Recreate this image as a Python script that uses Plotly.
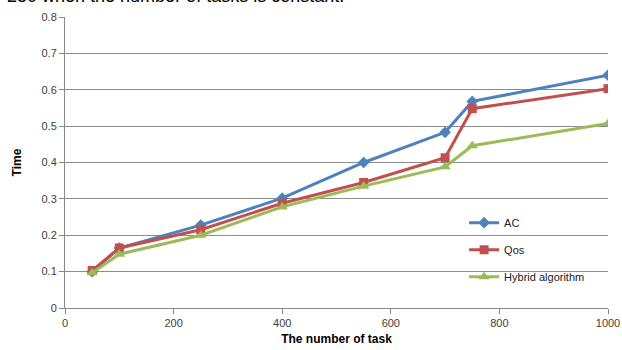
import plotly.graph_objects as go

tasks = [50, 100, 250, 400, 550, 700, 750, 1000]
ac = [0.100, 0.165, 0.228, 0.302, 0.400, 0.483, 0.568, 0.640]
qos = [0.103, 0.165, 0.215, 0.288, 0.345, 0.413, 0.548, 0.603]
hybrid = [0.097, 0.148, 0.200, 0.278, 0.335, 0.388, 0.446, 0.507]

series = [
    ("AC", ac, "#4F81BD", "diamond", 9),
    ("Qos", qos, "#C0504D", "square", 9),
    ("Hybrid algorithm", hybrid, "#9BBB59", "triangle-up", 10),
]

fig = go.Figure()
for i, (name, vals, color, sym, size) in enumerate(series):
    fig.add_trace(go.Scatter(
        x=tasks, y=vals, name=name, mode="lines+markers",
        line=dict(color=color, width=3),
        marker=dict(symbol=sym, size=size, color=color),
        legendgroup=f"g{i}",
    ))

font_family = "Liberation Sans, Arial, sans-serif"
fig.update_layout(
    width=622, height=350,
    margin=dict(l=65, r=14, t=17, b=42, autoexpand=False),
    paper_bgcolor="white", plot_bgcolor="white",
    font=dict(family=font_family, size=11, color="#404040"),
    showlegend=True,
    legend=dict(x=0.735, y=0.343, xanchor="left", yanchor="top",
                bgcolor="rgba(0,0,0,0)", font=dict(size=11, color="#202020"),
                tracegroupgap=8),
    xaxis=dict(range=[0, 1000], dtick=200, tick0=0, showgrid=False,
               showline=True, linecolor="#888888", linewidth=1,
               ticks="outside", ticklen=5, tickcolor="#888888",
               zeroline=False, automargin=False,
               title=dict(text="<b>The number of task</b>", font=dict(size=12, color="#000000"), standoff=6)),
    yaxis=dict(range=[0, 0.8], dtick=0.1, tick0=0, showgrid=True,
               gridcolor="#8c8c8c", gridwidth=1,
               showline=True, linecolor="#888888", linewidth=1,
               ticks="outside", ticklen=5, tickcolor="#888888",
               zeroline=False, automargin=False,
               title=dict(text="<b>Time</b>", font=dict(size=12, color="#000000"), standoff=17)),
)

fig.add_annotation(
    xref="paper", yref="paper", x=-0.11, y=1.032, xanchor="left", yanchor="bottom",
    text="250 when the number of tasks is constant.", showarrow=False,
    font=dict(family=font_family, size=18, color="#000000"),
)

fig.write_html(
    "out.html",
    config={"displayModeBar": False},
    post_script="document.body.style.margin='0';document.body.style.overflow='hidden';",
)
